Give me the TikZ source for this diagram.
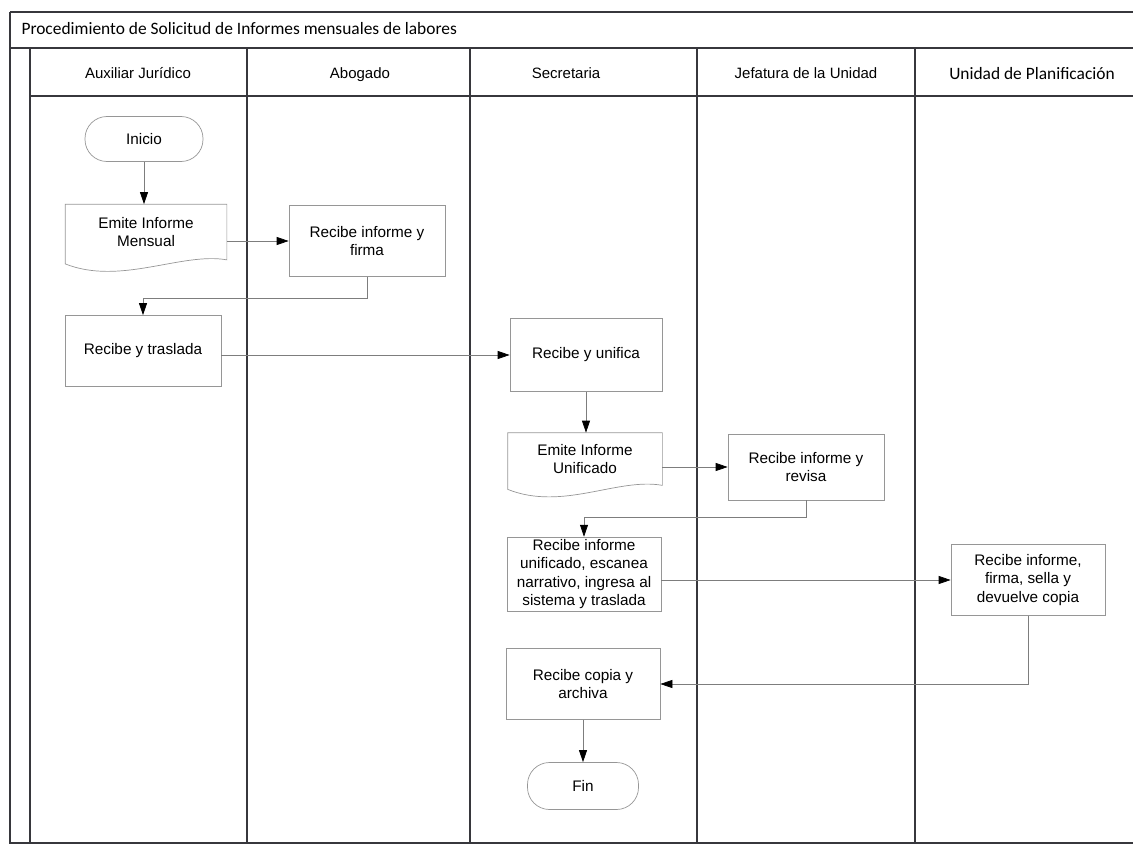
\documentclass[tikz,border=0pt]{standalone}
\usepackage{fontspec}
\setmainfont{Liberation Sans}
\newfontfamily\calibri{Carlito}
\usetikzlibrary{arrows.meta}
\definecolor{marco}{RGB}{55,55,60}
\definecolor{caja}{RGB}{150,150,150}
\definecolor{linea}{RGB}{125,125,125}
\tikzset{
proceso/.style={
	draw=caja, line width=0.7pt, align=center, inner sep=2pt,
	minimum width=154pt, minimum height=71pt,
	font=\fontsize{15.3}{18.5}\selectfont},
terminal/.style={proceso, rounded corners=22pt,
	minimum width=118pt, minimum height=45pt},
documento/.style={proceso, draw=none},
flecha/.style={draw=linea, line width=0.7pt,
	-{Triangle[length=12pt,width=8pt,color=black]}},
carril/.style={font=\fontsize{15}{18}\selectfont, text height=11pt, text depth=3pt},
titulo/.style={font=\calibri\fontsize{17.4}{20}\selectfont, text height=12pt, text depth=4pt}
}
\newcommand{\hojadoc}[1]{\draw[draw=caja, line width=0.7pt]
	(#1.north west) -- (#1.north east) -- (#1.south east)
	.. controls ([xshift=-45pt,yshift=8pt]#1.south east)
	and ([xshift=55pt,yshift=-26pt]#1.south west) .. ([yshift=-4pt]#1.south west)
	-- cycle;}

\begin{document}
\begin{tikzpicture}[x=1pt, y=-1pt]
	\useasboundingbox (0,0) rectangle (1133,851);
	\draw[marco, line width=1.1pt] (10,12) -- (1133,12);
	\draw[marco, line width=1.1pt] (10,48) -- (1133,48);
	\draw[marco, line width=1.1pt] (30,96) -- (1133,96);
	\draw[marco, line width=1.1pt] (10,12) -- (10,843) -- (1133,843);
	\draw[marco, line width=1.1pt] (30,48) -- (30,843);
	\foreach \x in {247,470,697,915}
		\draw[marco, line width=1.1pt] (\x,48) -- (\x,843);

	\node[titulo, anchor=west] (titulo) at (18,31)
		{Procedimiento de Solicitud de Informes mensuales de labores};
	\node[carril] (auxiliar) at (138,75) {Auxiliar Jurídico};
	\node[carril] (abogado) at (360,75) {Abogado};
	\node[carril] (secretaria) at (566,75) {Secretaria};
	\node[carril] (jefatura) at (806,75) {Jefatura de la Unidad};
	\node[titulo] (planificacion) at (1032,76) {Unidad de Planificación};

	\node[terminal] (inicio) at (144,139) {Inicio};
	\node[documento, minimum width=161pt, minimum height=55pt] (emite) at (146,232)
		{Emite Informe\\Mensual};
	\hojadoc{emite}
	\node[proceso, minimum width=156pt] (firma) at (367,241) {Recibe informe y\\firma};
	\node[proceso, minimum width=156pt] (traslada) at (143,351) {Recibe y traslada};
	\node[proceso, minimum width=152pt, minimum height=73pt] (unifica) at (586,355)
		{Recibe y unifica};
	\node[documento, minimum height=52pt] (emiteU) at (585,459)
		{Emite Informe\\Unificado};
	\hojadoc{emiteU}
	\node[proceso, minimum width=156pt, minimum height=66pt] (revisa) at (806,467)
		{Recibe informe y\\revisa};
	\node[proceso, minimum height=72pt] (escanea) at (584,574)
		{Recibe informe\\unificado, escanea\\narrativo, ingresa al\\sistema y traslada};
	\node[proceso] (devuelve) at (1028,580)
		{Recibe informe,\\firma, sella y\\devuelve copia};
	\node[proceso] (archiva) at (583,684) {Recibe copia y\\archiva};
	\node[terminal, minimum width=111pt, minimum height=47pt] (fin) at (583,786) {Fin};

	\draw[flecha] (inicio.south) -- (inicio.south |- emite.north);
	\draw[flecha] (emite.east |- firma.west) -- (firma.west);
	\draw[flecha] (firma.south) -- ++(0,21) -| (traslada.north);
	\draw[flecha] (traslada.east |- unifica.west) -- (unifica.west);
	\draw[flecha] (unifica.south) -- (unifica.south |- emiteU.north);
	\draw[flecha] (emiteU.east |- revisa.west) -- (revisa.west);
	\draw[flecha] (revisa.south) -- ++(0,17) -| (escanea.north);
	\draw[flecha] (escanea.east |- devuelve.west) -- (devuelve.west);
	\draw[flecha] (devuelve.south) |- (archiva.east);
	\draw[flecha] (archiva.south) -- (archiva.south |- fin.north);
\end{tikzpicture}
\end{document}
